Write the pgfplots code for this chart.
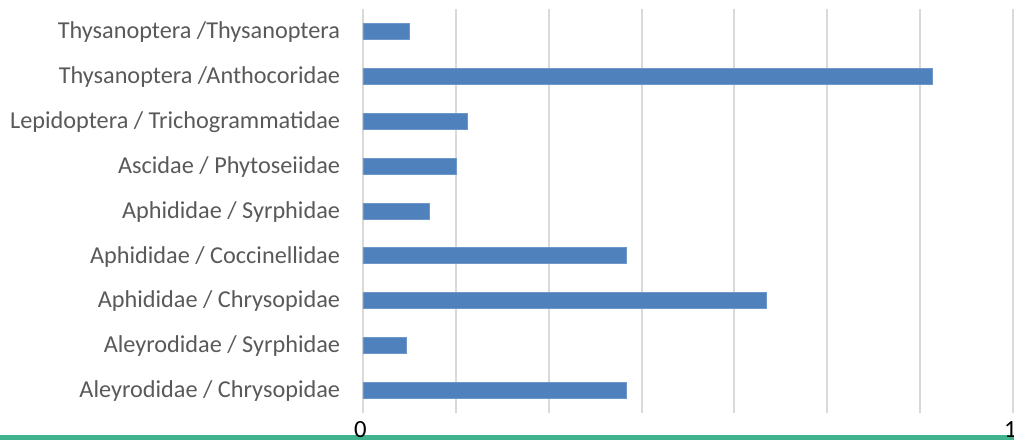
\documentclass[border=0pt]{standalone}
\usepackage{pgfplots}
\pgfplotsset{compat=1.18}
\usepackage{fontspec}
\setmainfont{Carlito}
\definecolor{barblue}{RGB}{79,129,189}
\definecolor{baredge}{RGB}{110,152,204}
\definecolor{gridgray}{RGB}{217,217,217}
\definecolor{labelgray}{RGB}{89,89,89}
\definecolor{bandgreen}{RGB}{64,178,142}
\begin{document}
\begin{tikzpicture}
\fill[bandgreen] (-272.25pt,-20.25pt) rectangle (488.25pt,-16.5pt);
\begin{axis}[
  scale only axis, width=487.5pt, height=303pt,
  xbar, bar width=12pt,
  xmin=0, xmax=1, ymin=-0.5, ymax=8.5,
  axis line style={draw=none},
  xtick={0,0.142857,0.285714,0.428571,0.571429,0.714286,0.857143,1},
  xticklabels={0,,,,,,,1},
  ytick={0,1,2,3,4,5,6,7,8},
  yticklabels={Aleyrodidae / Chrysopidae, Aleyrodidae / Syrphidae, Aphididae / Chrysopidae, Aphididae / Coccinellidae, Aphididae / Syrphidae, Ascidae / Phytoseiidae, Lepidoptera / Trichogrammatidae, Thysanoptera /Anthocoridae\ , Thysanoptera /Thysanoptera},
  major tick length=0pt,
  xmajorgrids, grid style={gridgray, line width=1.4pt},
  yticklabel style={font=\fontsize{18.2}{20}\selectfont, text=labelgray, inner sep=0pt, anchor=east, xshift=-17pt, yshift=-0.5pt},
  xticklabel style={font=\fontsize{18.5}{20}\selectfont, text=black, inner sep=0pt, anchor=north, yshift=-6.3pt, xshift=-2pt},
  clip=false,
]
\addplot[fill=barblue, draw=baredge, line width=0.6pt] coordinates {
  (0.405,0) (0.067,1) (0.620,2) (0.405,3) (0.102,4) (0.143,5) (0.160,6) (0.876,7) (0.072,8)};
\end{axis}
\pgfresetboundingbox
\path[use as bounding box] (-272.25pt,-20.25pt) rectangle (488.25pt,309.75pt);
\end{tikzpicture}
\end{document}
